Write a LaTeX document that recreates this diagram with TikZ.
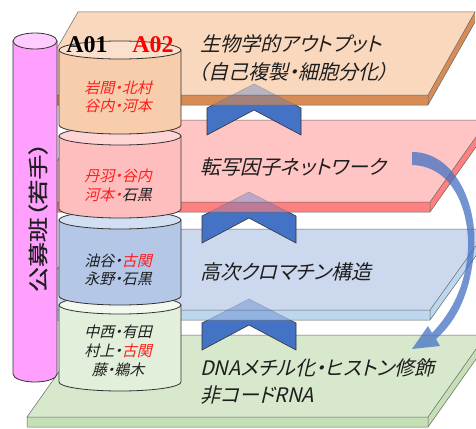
\documentclass[tikz,border=0pt]{standalone}
\usepackage{fontspec}
\newfontfamily\jp[FakeSlant=0.24,RawFeature=+palt]{Noto Sans CJK JP}
\newfontfamily\jpv[RawFeature=+palt,FakeStretch=1.25,FakeBold=0.6]{Noto Sans CJK JP}
\newfontfamily\serb{Liberation Serif}
\definecolor{orF}{RGB}{249,216,189}
\definecolor{orE}{RGB}{215,140,85}
\definecolor{pkF}{RGB}{255,196,196}
\definecolor{pkE}{RGB}{255,128,128}
\definecolor{blF}{RGB}{204,216,238}
\definecolor{blE}{RGB}{189,215,238}
\definecolor{grF}{RGB}{216,232,204}
\definecolor{grE}{RGB}{197,224,180}
\definecolor{chevB}{RGB}{68,114,196}
\definecolor{cOrS}{RGB}{248,205,172}
\definecolor{cOrT}{RGB}{251,224,205}
\definecolor{cPkS}{RGB}{255,190,190}
\definecolor{cPkT}{RGB}{255,212,212}
\definecolor{cBlS}{RGB}{180,199,231}
\definecolor{cBlT}{RGB}{210,222,242}
\definecolor{cGrS}{RGB}{226,239,218}
\definecolor{cGrT}{RGB}{242,248,237}
\definecolor{puS}{RGB}{255,160,255}
\definecolor{puT}{RGB}{255,204,255}
\definecolor{txt}{RGB}{30,30,30}
\definecolor{nred}{RGB}{255,30,30}
\tikzset{
  layerline/.style={draw=black!60, line width=0.5pt},
  chevsolid/.style={fill=chevB, draw=black!80, line width=0.6pt},
  chevghost/.style={fill=chevB, fill opacity=0.35, draw=black!60, draw opacity=0.4, line width=0.5pt},
  cyl/.style={draw=black!80, line width=0.8pt},
  layertext/.style={anchor=west, inner sep=0pt, text=txt, font=\jp\fontsize{20}{22}\selectfont},
  nametext/.style={inner sep=0pt, text=txt, font=\jp\fontsize{15}{17}\selectfont},
}
% #1 top-left x, #2 top-right x, #3 top y, #4 front-left x, #5 front-right x, #6 front y, #7 face, #8 edge
\newcommand\slab[8]{%
  \fill[#7] (#1,#3) -- (#2,#3) -- (#5,#6) -- (#4,#6) -- cycle;
  \fill[#8] (#4,#6) -- (#5,#6) -- (#2,#3) -- (#2,#3+10) -- (#5,#6+10) -- (#4,#6+10) -- cycle;
  \draw[layerline] (#4,#6) -- (#1,#3) -- (#2,#3) -- (#5,#6) -- cycle;
  \draw[layerline] (#4,#6+10) -- (#5,#6+10) -- (#2,#3+10) (#5,#6) -- (#5,#6+10) (#4,#6) -- (#4,#6+10);
}
\newcommand\slabclip[6]{\clip (#1,#3) -- (#2,#3) -- (#2,#3+10) -- (#5,#6+10) -- (#4,#6+10) -- (#4,#6) -- cycle;}
\newcommand\chevron[3]{\path[#1, shift={(#2,#3)}] (0,24) -- (47,0) -- (94,24) -- (94,51) -- (47,26) -- (0,51) -- cycle;}
% cylinder segment: #1 top y, #2 bottom y, #3 side colour, #4 top colour
\newcommand\cylseg[4]{%
  \filldraw[cyl, fill=#3] (59,#1) -- (59,#2) arc[start angle=180, end angle=0, x radius=61, y radius=9] -- (181,#1) -- cycle;
  \filldraw[cyl, fill=#4] (120,#1) ellipse[x radius=61, y radius=9];
}
\begin{document}
\begin{tikzpicture}[x=1pt,y=-1pt]
\useasboundingbox (0,0) rectangle (476,428);
\clip (0,0) rectangle (476,428);
\fill[white] (0,0) rectangle (476,428);

% green layer
\slab{85}{486}{335}{27}{428}{417}{grF}{grE}
\chevron{chevsolid}{202}{299}
% blue layer
\slab{86}{488}{229}{28}{430}{310}{blF}{blE}
\begin{scope}\slabclip{86}{488}{229}{28}{430}{310}\chevron{chevghost}{202}{299}\end{scope}
\chevron{chevsolid}{202}{192}
% pink layer
\slab{86}{488}{120}{28}{430}{202}{pkF}{pkE}
\begin{scope}\slabclip{86}{488}{120}{28}{430}{202}\chevron{chevghost}{202}{192}\end{scope}
\chevron{chevsolid}{207}{84}
% orange layer
\slab{78}{475}{12}{30}{428}{95}{orF}{orE}
\begin{scope}\slabclip{78}{475}{12}{30}{428}{95}\chevron{chevghost}{207}{84}\end{scope}

% curved arrow
\fill[chevB, fill opacity=0.75]
  (412,152) .. controls (455,152) and (478,205) .. (474,250)
  .. controls (471,290) and (458,320) .. (436,339)
  -- (440,346) -- (412,349) -- (428,326) -- (432,333)
  .. controls (452,312) and (466,285) .. (468,248)
  .. controls (469,205) and (450,166) .. (412,165) -- cycle;

% purple cylinder
\filldraw[cyl, fill=puS] (13,41) -- (13,374) arc[start angle=180, end angle=0, x radius=22, y radius=8] -- (57,41) -- cycle;
\filldraw[cyl, fill=puT] (35,41) ellipse[x radius=22, y radius=8];
\node[rotate=90, inner sep=0pt, text=txt, font=\jpv\fontsize{20}{22}\selectfont] (koubo) at (38,217) {公募班（若手）};

% stacked cylinder
\cylseg{305}{382}{cGrS}{cGrT}
\cylseg{220}{296}{cBlS}{cBlT}
\cylseg{136}{209}{cPkS}{cPkT}
\cylseg{50}{125}{cOrS}{cOrT}

\node[inner sep=0pt, font=\serb\bfseries\fontsize{24}{26}\selectfont, text=black] (a01) at (87,45) {A01};
\node[inner sep=0pt, font=\serb\bfseries\fontsize{24}{26}\selectfont, text=red] (a02) at (153,45) {A02};

\node[nametext, text=nred] (n1) at (118,88) {岩間・北村};
\node[nametext, text=nred] (n2) at (118,106) {谷内・河本};
\node[nametext, text=nred] (n3) at (118,176) {丹羽・谷内};
\node[nametext] (n4) at (118,195) {\textcolor{nred}{河本・}石黒};
\node[nametext] (n5) at (118,261) {油谷・\textcolor{nred}{古関}};
\node[nametext] (n6) at (118,279) {永野・石黒};
\node[nametext] (n7) at (118,332) {中西・有田};
\node[nametext] (n8) at (118,351) {村上・\textcolor{nred}{古関}};
\node[nametext] (n9) at (118,370) {藤・鵜木};

\node[layertext] (t1) at (200,44) {生物学的アウトプット};
\node[layertext] (t2) at (198,72) {（自己複製・細胞分化）};
\node[layertext] (t3) at (200,167) {転写因子ネットワーク};
\node[layertext] (t4) at (200,272) {高次クロマチン構造};
\node[layertext] (t5) at (200,368) {DNAメチル化・ヒストン修飾};
\node[layertext] (t6) at (200,395) {非コードRNA};
\end{tikzpicture}
\end{document}
